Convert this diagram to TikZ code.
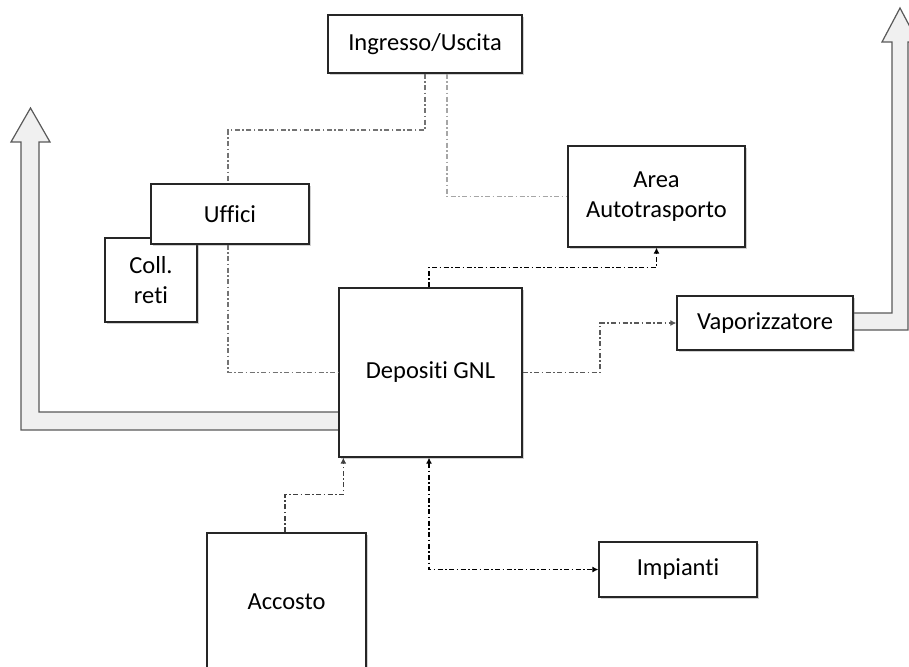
\documentclass[tikz,border=0pt]{standalone}
\usepackage{fontspec}
\setmainfont{Carlito}[Ligatures={NoCommon}]
\usetikzlibrary{arrows.meta,shadows}
\tikzset{
  box/.style={draw=black!85, line width=1.3pt, fill=white, align=center,
    inner sep=0pt, font=\fontsize{24.5}{29.5}\selectfont,
    drop shadow={shadow xshift=2pt, shadow yshift=-2pt, opacity=0.3, fill=black!60}},
  conn/.style={line width=1.1pt, dash pattern=on 5pt off 2.5pt on 1.5pt off 2.5pt},
  tip/.style={-{Latex[length=6pt,width=6pt]}},
  bigarrow/.style={draw=black!65, line width=1.2pt, fill=black!6, line join=miter}
}
\begin{document}
\begin{tikzpicture}[x=1pt,y=-1pt]
\useasboundingbox (0,0) rectangle (909,666);
\clip (0,0) rectangle (909,666);
% big hollow arrows
\draw[bigarrow] (339,430) -- (21,430) -- (21,142) -- (11,142) -- (30.5,108) -- (50,142) -- (39,142) -- (39,412) -- (339,412);
\draw[bigarrow] (853,313) -- (892,313) -- (892,42) -- (882,42) -- (900,8) -- (918,42) -- (908,42) -- (908,330) -- (853,330);
% nodes
\node[box, minimum width=92pt, minimum height=84pt] (collreti) at (151,280) {Coll.\\reti};
\node[box, minimum width=194pt, minimum height=58pt] (ingresso) at (425,44) {Ingresso/Uscita};
\node[box, minimum width=177pt, minimum height=101pt] (area) at (656.5,196.5) {Area\\Autotrasporto};
\node[box, minimum width=183pt, minimum height=169pt] (depositi) at (430.5,372.5) {Depositi GNL};
\node[box, minimum width=176pt, minimum height=54pt] (vapor) at (765,323) {Vaporizzatore};
\node[box, minimum width=158pt, minimum height=55pt] (impianti) at (678,569.5) {Impianti};
\node[box, minimum width=159pt, minimum height=138pt] (accosto) at (286.5,602) {Accosto};
% connectors
\coordinate (j1) at (228,130);
\draw[conn, draw=black!55] (ingresso.south) |- (j1) -- (j1 |- depositi.west) -- (depositi.west);
\draw[conn, draw=black!35] ([xshift=22pt]ingresso.south) |- (area.west);
\draw[conn, draw=black, tip] ([xshift=-1.5pt]depositi.north) -- ++(0,-20) -| (area.south);
\coordinate (j4) at (600,372.5);
\draw[conn, draw=black!65, tip] (depositi.east) -- (j4) |- (vapor.west);
\draw[conn, draw=black!75, tip] ([xshift=-1.5pt]accosto.north) -- ++(0,-38) -| ([xshift=5pt]depositi.south west);
\draw[conn, draw=black, {Latex[length=6pt,width=6pt]}-{Latex[length=6pt,width=6pt]}] ([xshift=-1.5pt]depositi.south) |- (impianti.west);
% Uffici on top
\node[box, minimum width=158pt, minimum height=60pt] (uffici) at (230,214) {Uffici};
\end{tikzpicture}
\end{document}
